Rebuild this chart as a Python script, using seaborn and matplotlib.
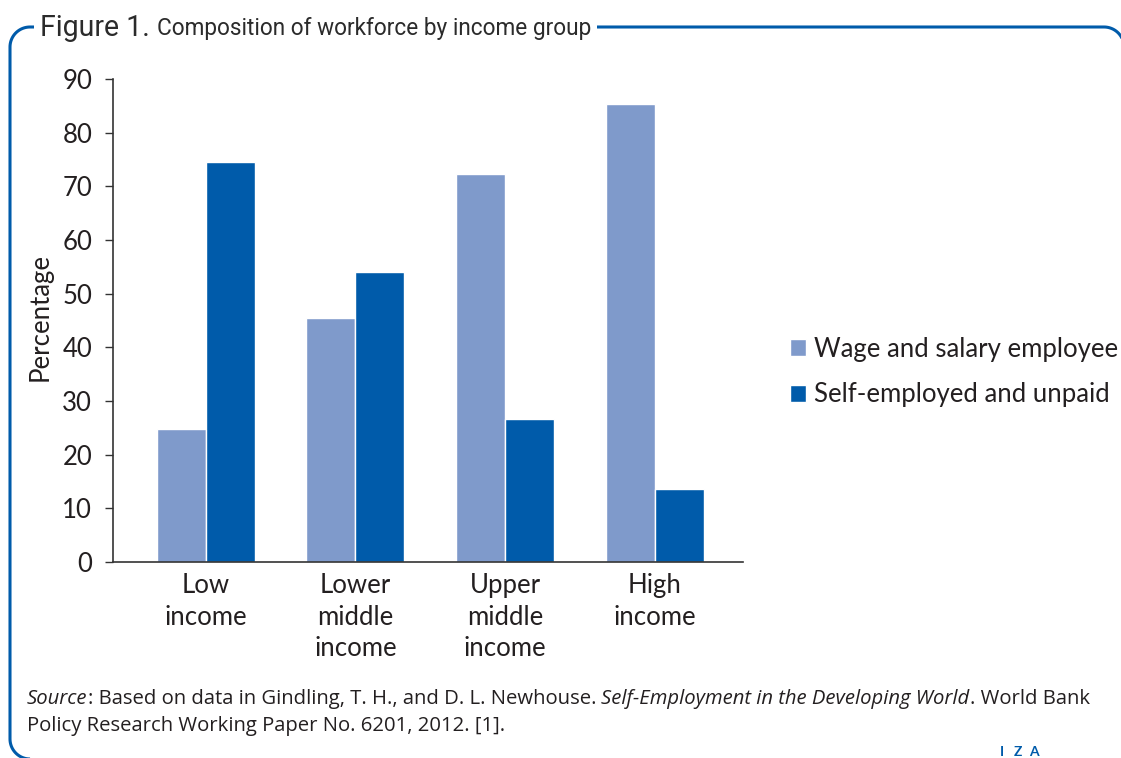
import matplotlib
matplotlib.use("Agg")
import matplotlib.pyplot as plt
import seaborn as sns
import numpy as np
import pandas as pd
from matplotlib.transforms import IdentityTransform
from matplotlib.lines import Line2D

groups = ["Low\nincome", "Lower\nmiddle\nincome", "Upper\nmiddle\nincome", "High\nincome"]
series = ["Wage and salary employee", "Self-employed and unpaid"]
wage = [24.8, 45.5, 72.3, 85.3]
self_emp = [74.6, 54.1, 26.7, 13.6]
yticks = list(range(0, 91, 10))

colors = ["#7f9acb", "#005baa"]
frame_blue = "#005baa"
text_col = "#231f20"
fs = 18.5

df = pd.DataFrame({
    "group": groups * 2,
    "series": [series[0]] * 4 + [series[1]] * 4,
    "value": wage + self_emp,
})

sns.set_style("ticks")
plt.rcParams["font.family"] = ["Lato", "DejaVu Sans"]
plt.rcParams["text.color"] = text_col

W, H = 1121, 758
fig = plt.figure(figsize=(W / 100, H / 100), dpi=100)
ax = fig.add_axes([113 / W, 1 - 562 / H, (743 - 113) / W, (562 - 79) / H])

sns.barplot(data=df, x="group", y="value", hue="series", order=groups,
            hue_order=series, palette=colors, width=0.655, gap=0,
            saturation=1, ax=ax, legend=True)

ax.set_ylim(0, 90)
ax.set_xlim(-0.62, 3.59)
ax.set_yticks(yticks)
ax.set_yticklabels([str(t) for t in yticks], fontsize=fs, color=text_col)
ax.set_ylabel("Percentage", fontsize=fs, color=text_col, va="center")
ax.yaxis.set_label_coords(-0.116, 0.508)
ax.set_xlabel("")
ax.tick_params(axis="x", length=0, pad=8, labelsize=fs, labelcolor=text_col)
ax.tick_params(axis="y", length=6, width=1, color="#333333", pad=9)
for lab in ax.get_xticklabels():
    lab.set_linespacing(1.32)
sns.despine(ax=ax)
for s in ["left", "bottom"]:
    ax.spines[s].set_color("#333333")
    ax.spines[s].set_linewidth(1.2)

leg = ax.legend(loc="center left", bbox_to_anchor=(790 / W, 1 - 372 / H),
                bbox_transform=fig.transFigure, frameon=False, fontsize=fs,
                handlelength=0.62, handleheight=0.62, handletextpad=0.32,
                labelspacing=0.8, borderpad=0, borderaxespad=0)


# blue frame (pixel coords, origin bottom-left); only the visible parts
def arc(cx, cy, rad, a0, a1):
    a = np.radians(np.linspace(a0, a1, 20))
    return list(cx + rad * np.cos(a)), list(cy + rad * np.sin(a))


rad = 20
left, top, right, bottom = 10, 731, 1124, -1
xs, ys = arc(left + rad, bottom + rad, rad, 270, 180)
x2, y2 = arc(left + rad, top - rad, rad, 180, 90)
x3, y3 = arc(right - rad, top - rad, rad, 90, 20)
fig.lines.append(Line2D(xs + x2 + x3, ys + y2 + y3, color=frame_blue,
                        lw=2.2, transform=IdentityTransform(), zorder=1,
                        solid_capstyle="butt"))

fig.canvas.draw()
r = fig.canvas.get_renderer()


def fit_text(x, y, txt, width, size, **kw):
    t = fig.text(x / W, 1 - y / H, txt, fontsize=size, **kw)
    w = t.get_window_extent(r).width
    t.set_fontsize(size * width / w)
    return t


white = dict(facecolor="white", edgecolor="none", pad=4)
t1 = fit_text(40, 28, "Figure 1.", 110, 19, family=["Roboto", "Lato"],
              va="center", ha="left", zorder=3, bbox=white, color="#2b2b2b")
x_end = t1.get_window_extent(r).x1
fit_text(x_end + 7, 29, "Composition of workforce by income group", 435, 16,
         family=["Roboto", "Lato"], va="center", ha="left", zorder=3,
         bbox=white, color="#2b2b2b")


def rich_line(x, y, pieces, size):
    x0 = x
    for txt, style in pieces:
        t = fig.text(x / W, 1 - y / H, txt, fontsize=size, style=style,
                     family=["Open Sans", "Lato"], va="baseline", ha="left",
                     color=text_col)
        x = t.get_window_extent(r).x1
    return x - x0


line1 = [("Source", "italic"),
         (": Based on data in Gindling, T. H., and D. L. Newhouse. ", "normal"),
         ("Self-Employment in the Developing World", "italic"),
         (". World Bank", "normal")]
probe = fig.text(0, 0, "".join(p[0] for p in line1), fontsize=13,
                 family=["Open Sans", "Lato"])
src_size = 13 * (1113 - 27) / probe.get_window_extent(r).width
probe.remove()
rich_line(27, 704, line1, src_size)
rich_line(27, 731, [("Policy Research Working Paper No. 6201, 2012. [1].", "normal")], src_size)

for xi, ch in zip([1002, 1018, 1034], ["I", "Z", "A"]):
    fig.text(xi / W, 1 - 752 / H, ch, fontsize=10, color=frame_blue,
             ha="center", va="center", weight="bold")

fig.savefig("out.png", dpi=100)
